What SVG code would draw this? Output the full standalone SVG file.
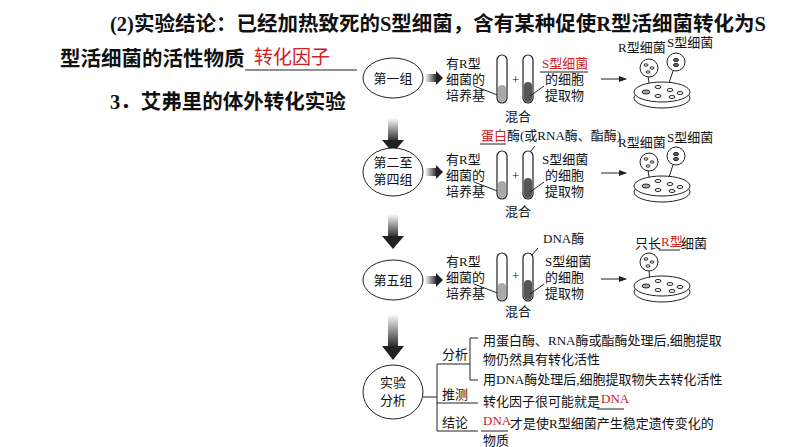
<svg xmlns="http://www.w3.org/2000/svg" width="794" height="447" viewBox="0 0 794 447">
<style>
.t{font-family:"Liberation Serif","Noto Sans CJK SC",serif;font-size:13px;fill:#111}
.h{font-family:"Liberation Serif","Noto Sans CJK SC",serif;font-size:20.5px;font-weight:bold;fill:#111}
.r{fill:#d0201f}
.ln{stroke:#222;stroke-width:1;fill:none}
.tube{fill:#fff;stroke:#222;stroke-width:1.2}
.b{fill:#fff;stroke:#222}
</style>
<defs>
<linearGradient id="gd" x1="0" y1="0" x2="0" y2="1"><stop offset="0" stop-color="#fff"/><stop offset="1" stop-color="#222"/></linearGradient>
<linearGradient id="gr" x1="0" y1="0" x2="1" y2="0"><stop offset="0" stop-color="#fff"/><stop offset="1" stop-color="#222"/></linearGradient>
<marker id="a" markerWidth="8" markerHeight="6" refX="7" refY="3" orient="auto"><path d="M0,0L8,3L0,6z" fill="#222"/></marker>
<g id="dish">
<ellipse cx="0" cy="6" rx="28" ry="10" fill="#fff" stroke="#222"/>
<ellipse cx="0" cy="0" rx="28" ry="10" fill="#fff" stroke="#222"/>
<ellipse cx="-16" cy="0" rx="4" ry="2" fill="#aaa" stroke="#222"/>
<ellipse cx="-4" cy="-5" rx="3" ry="1.5" fill="#fff" stroke="#222"/>
<ellipse cx="8" cy="-2" rx="3" ry="1.5" fill="#fff" stroke="#222"/>
<ellipse cx="18" cy="1" rx="3" ry="1.5" fill="#fff" stroke="#222"/>
<ellipse cx="-4" cy="4" rx="3" ry="1.5" fill="#fff" stroke="#222"/>
<ellipse cx="10" cy="5" rx="3" ry="1.5" fill="#fff" stroke="#222"/>
</g>
<g id="dots"><ellipse cx="-3" cy="-3" rx="2" ry="1.2" class="b"/><ellipse cx="3" cy="0" rx="2" ry="1.2" class="b"/><ellipse cx="-1" cy="4" rx="2" ry="1.2" class="b"/></g>
<g id="sdots"><ellipse cx="0" cy="-2" rx="2.5" ry="1.6" fill="#666" stroke="#222"/><ellipse cx="0" cy="3" rx="2.5" ry="1.6" fill="#666" stroke="#222"/></g>
</defs>
<rect width="794" height="447" fill="#fff"/>
<g id="heading">
<text class="h" x="110" y="31">(2)实验结论：已经加热致死的S型细菌，含有某种促使R型活细菌转化为S</text>
<text class="h" x="60" y="66">型活细菌的活性物质</text>
<text class="h r" x="254" y="64" style="fill:#d0201f;font-weight:normal;font-family:'Noto Sans CJK SC',sans-serif;font-size:19px">转化因子</text>
<line x1="245" y1="70" x2="357" y2="70" stroke="#222"/>
<text class="h" x="110" y="109">3．艾弗里的体外转化实验</text>
</g>
<g id="connectors">
<rect x="388" y="118" width="10" height="24" fill="url(#gd)"/><path d="M382,140L404,140L393,153z" fill="#222"/>
<rect x="388" y="214" width="10" height="24" fill="url(#gd)"/><path d="M382,236L404,236L393,249z" fill="#222"/>
<rect x="388" y="314" width="10" height="34" fill="url(#gd)"/><path d="M382,346L404,346L393,360z" fill="#222"/>
<rect x="425" y="74" width="12" height="8" fill="url(#gr)"/><path d="M436,71L443,78L436,85z" fill="#222"/>
<rect x="425" y="168" width="12" height="8" fill="url(#gr)"/><path d="M436,165L443,172L436,179z" fill="#222"/>
<rect x="425" y="276" width="12" height="8" fill="url(#gr)"/><path d="M436,273L443,280L436,287z" fill="#222"/>
<line class="ln" x1="601" y1="79" x2="626" y2="79" marker-end="url(#a)"/>
<line class="ln" x1="601" y1="173" x2="626" y2="173" marker-end="url(#a)"/>
<line class="ln" x1="601" y1="279" x2="626" y2="279" marker-end="url(#a)"/>
<path class="ln" d="M423,397H437M437,364V431M437,364H470M437,403H478M437,431H478M470,338V380M470,338H478M470,380H478"/>
</g>
<g id="n1"><ellipse cx="393" cy="78" rx="30" ry="20" fill="#fff" stroke="#222"/><text class="t" x="393" y="83" text-anchor="middle">第一组</text></g>
<g id="n2"><ellipse cx="393" cy="172" rx="30" ry="24" fill="#fff" stroke="#222"/><text class="t" x="393" y="167" text-anchor="middle">第二至</text><text class="t" x="393" y="184" text-anchor="middle">第四组</text></g>
<g id="n3"><ellipse cx="393" cy="280" rx="30" ry="20" fill="#fff" stroke="#222"/><text class="t" x="393" y="285" text-anchor="middle">第五组</text></g>
<g id="n4"><ellipse cx="393" cy="392" rx="30" ry="27" fill="#fff" stroke="#222"/><text class="t" x="393" y="387" text-anchor="middle">实验</text><text class="t" x="393" y="405" text-anchor="middle">分析</text></g>
<g id="row1">
<text class="t" x="446" y="68">有R型</text><text class="t" x="446" y="84">细菌的</text><text class="t" x="446" y="100">培养基</text>
<path class="ln" d="M474,86L500,96"/>
<rect class="tube" x="497" y="55" width="10" height="48" rx="5"/><rect x="498" y="85" width="8" height="17" rx="4" fill="#aaa"/>
<text class="t" x="512" y="84" font-size="10">+</text>
<rect class="tube" x="523" y="55" width="10" height="48" rx="5"/><rect x="524" y="82" width="8" height="20" rx="4" fill="#555"/>
<path class="ln" d="M544,86L530,96"/>
<text class="t r" x="542" y="68" style="fill:#d0201f">S型细菌</text><line x1="540" y1="72" x2="588" y2="72" stroke="#222"/>
<text class="t" x="545" y="84">的细胞</text><text class="t" x="545" y="100">提取物</text>
<text class="t" x="505" y="121">混合</text>
<text class="t" x="618" y="52" font-size="12">R型细菌</text><text class="t" x="667" y="47" font-size="12">S型细菌</text>
<path class="ln" d="M648,76L650,89"/><circle class="b" cx="649" cy="68" r="9"/><use href="#dots" x="649" y="68"/>
<path class="ln" d="M673,71L668,86"/><circle class="b" cx="676" cy="62" r="9"/><use href="#sdots" x="676" y="62"/>
<use href="#dish" x="662" y="92"/>
</g>
<g id="row2">
<text class="t r" x="481" y="140" style="fill:#d0201f">蛋白</text><line x1="480" y1="144" x2="506" y2="144" stroke="#222"/>
<text class="t" x="507" y="140" font-size="12">酶(或RNA酶、酯酶)</text><path class="ln" d="M535,146L530,152"/>
<text class="t" x="446" y="164">有R型</text><text class="t" x="446" y="180">细菌的</text><text class="t" x="446" y="196">培养基</text>
<path class="ln" d="M474,182L500,192"/>
<rect class="tube" x="497" y="151" width="10" height="48" rx="5"/><rect x="498" y="181" width="8" height="17" rx="4" fill="#aaa"/>
<text class="t" x="512" y="180" font-size="10">+</text>
<rect class="tube" x="523" y="151" width="10" height="48" rx="5"/><rect x="524" y="178" width="8" height="20" rx="4" fill="#555"/>
<path class="ln" d="M544,182L530,192"/>
<text class="t" x="542" y="164">S型细菌</text><text class="t" x="545" y="180">的细胞</text><text class="t" x="545" y="196">提取物</text>
<text class="t" x="505" y="216">混合</text>
<text class="t" x="618" y="147" font-size="12">R型细菌</text><text class="t" x="667" y="142" font-size="12">S型细菌</text>
<path class="ln" d="M648,170L650,183"/><circle class="b" cx="649" cy="162" r="9"/><use href="#dots" x="649" y="162"/>
<path class="ln" d="M673,165L668,180"/><circle class="b" cx="676" cy="156" r="9"/><use href="#sdots" x="676" y="156"/>
<use href="#dish" x="662" y="186"/>
</g>
<g id="row3">
<text class="t" x="543" y="243">DNA酶</text><path class="ln" d="M538,248L532,255"/>
<text class="t" x="446" y="266">有R型</text><text class="t" x="446" y="282">细菌的</text><text class="t" x="446" y="298">培养基</text>
<path class="ln" d="M474,284L500,294"/>
<rect class="tube" x="497" y="253" width="10" height="48" rx="5"/><rect x="498" y="283" width="8" height="17" rx="4" fill="#aaa"/>
<text class="t" x="512" y="280" font-size="10">+</text>
<rect class="tube" x="523" y="253" width="10" height="48" rx="5"/><rect x="524" y="280" width="8" height="20" rx="4" fill="#555"/>
<path class="ln" d="M544,284L530,294"/>
<text class="t" x="545" y="266">S型细菌</text><text class="t" x="545" y="282">的细胞</text><text class="t" x="545" y="298">提取物</text>
<text class="t" x="505" y="316">混合</text>
<text class="t" x="635" y="248">只长</text><text class="t r" x="661" y="246" font-size="10" style="fill:#d0201f">R型</text><line x1="659" y1="250" x2="680" y2="250" stroke="#222"/><text class="t" x="681" y="248">细菌</text>
<path class="ln" d="M649,270L650,283"/><circle class="b" cx="649" cy="262" r="9"/><use href="#dots" x="649" y="262"/>
<use href="#dish" x="662" y="286"/>
</g>
<g id="analysis">
<text class="t" x="442" y="359">分析</text>
<text class="t" x="442" y="399">推测</text>
<text class="t" x="442" y="427">结论</text>
<text class="t" x="483" y="345">用蛋白酶、RNA酶或酯酶处理后,细胞提取</text>
<text class="t" x="483" y="364">物仍然具有转化活性</text>
<text class="t" x="483" y="384">用DNA酶处理后,细胞提取物失去转化活性</text>
<text class="t" x="483" y="406">转化因子很可能就是</text>
<text class="t r" x="601" y="403" style="fill:#d0201f">DNA</text><line x1="597" y1="409" x2="624" y2="409" stroke="#222"/>
<text class="t r" x="483" y="425" style="fill:#d0201f">DNA</text><line x1="481" y1="431" x2="508" y2="431" stroke="#222"/>
<text class="t" x="510" y="428">才是使R型细菌产生稳定遗传变化的</text>
<text class="t" x="483" y="445">物质</text>
</g>
</svg>
